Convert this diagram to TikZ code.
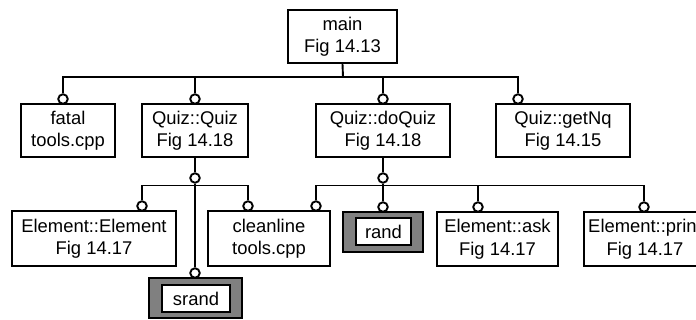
\documentclass[tikz,border=0pt]{standalone}
\usepackage{fontspec}
\setmainfont{Liberation Sans}
\definecolor{libgray}{RGB}{128,128,128}
\begin{document}
\begin{tikzpicture}[x=1pt,y=-1pt,
  every node/.style={font=\fontsize{18.4}{22.5}\selectfont},
  box/.style={draw, line width=1.9pt, fill=white, align=center, inner sep=0pt},
  libframe/.style={draw, line width=1.9pt, fill=libgray, inner sep=0pt},
  knob/.style={draw, circle, line width=1.9pt, fill=white, minimum size=9.5pt, inner sep=0pt},
  wire/.style={line width=1.9pt}]
\useasboundingbox (0,0) rectangle (696,320);
\clip (0,0) rectangle (696,320);

% top level
\node[box, minimum width=109pt, minimum height=53pt] (main) at (342.5,36.5) {main\\Fig 14.13};

% first level of calls
\node[box, minimum width=94pt,  minimum height=53pt] (fatal) at (68,130.5)  {fatal\\tools.cpp};
\node[box, minimum width=106pt, minimum height=53pt] (qq)    at (195,130.5) {Quiz::Quiz\\Fig 14.18};
\node[box, minimum width=134pt, minimum height=53pt] (dq)    at (383,130.5) {Quiz::doQuiz\\Fig 14.18};
\node[box, minimum width=134pt, minimum height=53pt] (nq)    at (563,130.5) {Quiz::getNq\\Fig 14.15};

% second level of calls
\node[box, minimum width=164pt, minimum height=55pt] (ee)    at (94,238.5)  {Element::Element\\Fig 14.17};
\node[box, minimum width=122pt, minimum height=55pt] (cl)    at (269,238.5) {cleanline\\tools.cpp};
\node[box, minimum width=121pt, minimum height=54pt] (ask)   at (497.5,239) {Element::ask\\Fig 14.17};
\node[box, minimum width=122pt, minimum height=54pt] (print) at (645,239)   {Element::print\\Fig 14.17};

% library routines
\node[libframe, minimum width=93pt, minimum height=40pt] (srandframe) at (195.5,298) {};
\node[box, minimum width=68pt, minimum height=27pt] (srand) at (196,298.5) {srand};
\node[libframe, minimum width=80pt, minimum height=40pt] (randframe) at (383,232) {};
\node[box, minimum width=55pt, minimum height=27pt] (rand) at (383.5,231.5) {rand};

% bus junctions
\coordinate (bus1) at (343,77);
\coordinate (bus2) at (195,185.5);
\coordinate (bus3) at (383,185.5);

% knobs where calls enter a box
\node[knob] (kfatal) at (63,99) {};
\node[knob] (kqq)    at (195,99) {};
\node[knob] (kdq)    at (383,99) {};
\node[knob] (knq)    at (518,99) {};
\node[knob] (kee)    at (142,206) {};
\node[knob] (kcla)   at (248,206) {};
\node[knob] (kclb)   at (316,206) {};
\node[knob] (krand)  at (383,207) {};
\node[knob] (kask)   at (478,207) {};
\node[knob] (kprint) at (644,207) {};
\node[knob] (ksrand) at (195,273) {};
\node[knob] (kqqout) at (195,178) {};
\node[knob] (kdqout) at (383,178) {};

% connectors from main
\draw[wire] (main.south) -- (bus1);
\draw[wire] (kfatal.north) |- (bus1) -| (knq.north);
\draw[wire] (kqq.north) -- (kqq.north |- bus1);
\draw[wire] (kdq.north) -- (kdq.north |- bus1);

% connectors from Quiz::Quiz
\draw[wire] (qq.south) -- (kqqout.north);
\draw[wire] (kee.north) |- (bus2) -| (kcla.north);
\draw[wire] (kqqout.south) -- (ksrand.north);

% connectors from Quiz::doQuiz
\draw[wire] (dq.south) -- (kdqout.north);
\draw[wire] (kdqout.south) -- (bus3);
\draw[wire] (kclb.north) |- (bus3) -| (kprint.north);
\draw[wire] (krand.north) -- (krand.north |- bus3);
\draw[wire] (kask.north) -- (kask.north |- bus3);
\end{tikzpicture}
\end{document}
